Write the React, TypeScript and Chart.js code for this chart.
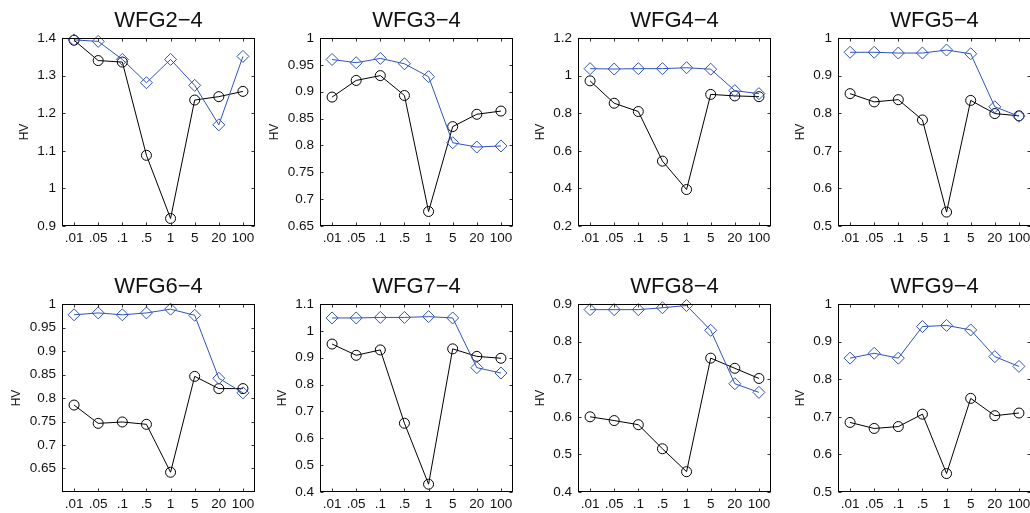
import React, { useEffect, useRef } from 'react';
import { Chart, registerables } from 'chart.js';

Chart.register(...registerables);

// ---------- data ----------
const categories = ['.01', '.05', '.1', '.5', '1', '5', '20', '100'];

const wfg2Black = [1.394, 1.34, 1.336, 1.088, 0.92, 1.235, 1.244, 1.258];
const wfg2Blue = [1.395, 1.391, 1.343, 1.281, 1.343, 1.274, 1.169, 1.351];
const wfg2Ticks = [0.9, 1, 1.1, 1.2, 1.3, 1.4];

const wfg3Black = [0.89, 0.921, 0.93, 0.893, 0.677, 0.835, 0.858, 0.864];
const wfg3Blue = [0.96, 0.954, 0.962, 0.952, 0.928, 0.805, 0.797, 0.799];
const wfg3Ticks = [0.65, 0.7, 0.75, 0.8, 0.85, 0.9, 0.95, 1];

const wfg4Black = [0.972, 0.853, 0.809, 0.545, 0.394, 0.9, 0.892, 0.888];
const wfg4Blue = [1.037, 1.035, 1.037, 1.037, 1.042, 1.034, 0.92, 0.904];
const wfg4Ticks = [0.2, 0.4, 0.6, 0.8, 1, 1.2];

const wfg5Black = [0.852, 0.83, 0.836, 0.782, 0.537, 0.834, 0.799, 0.793];
const wfg5Blue = [0.962, 0.962, 0.96, 0.96, 0.968, 0.958, 0.817, 0.792];
const wfg5Ticks = [0.5, 0.6, 0.7, 0.8, 0.9, 1];

const wfg6Black = [0.785, 0.746, 0.749, 0.744, 0.642, 0.846, 0.82, 0.82];
const wfg6Blue = [0.977, 0.981, 0.977, 0.981, 0.989, 0.976, 0.842, 0.811];
const wfg6Ticks = [0.65, 0.7, 0.75, 0.8, 0.85, 0.9, 0.95, 1];

const wfg7Black = [0.951, 0.909, 0.929, 0.656, 0.429, 0.933, 0.905, 0.898];
const wfg7Blue = [1.048, 1.048, 1.05, 1.05, 1.053, 1.048, 0.863, 0.843];
const wfg7Ticks = [0.4, 0.5, 0.6, 0.7, 0.8, 0.9, 1, 1.1];

const wfg8Black = [0.6, 0.59, 0.579, 0.515, 0.454, 0.756, 0.729, 0.702];
const wfg8Blue = [0.885, 0.885, 0.885, 0.89, 0.896, 0.83, 0.688, 0.665];
const wfg8Ticks = [0.4, 0.5, 0.6, 0.7, 0.8, 0.9];

const wfg9Black = [0.685, 0.669, 0.674, 0.707, 0.549, 0.749, 0.703, 0.71];
const wfg9Blue = [0.856, 0.869, 0.856, 0.94, 0.943, 0.931, 0.86, 0.834];
const wfg9Ticks = [0.5, 0.6, 0.7, 0.8, 0.9, 1];

type PanelCfg = {
  title: string;
  black: number[];
  blue: number[];
  ticks: number[];
  min: number;
  max: number;
};

const panels: PanelCfg[] = [
  { title: 'WFG2\u22124', black: wfg2Black, blue: wfg2Blue, ticks: wfg2Ticks, min: 0.9, max: 1.4 },
  { title: 'WFG3\u22124', black: wfg3Black, blue: wfg3Blue, ticks: wfg3Ticks, min: 0.65, max: 1 },
  { title: 'WFG4\u22124', black: wfg4Black, blue: wfg4Blue, ticks: wfg4Ticks, min: 0.2, max: 1.2 },
  { title: 'WFG5\u22124', black: wfg5Black, blue: wfg5Blue, ticks: wfg5Ticks, min: 0.5, max: 1 },
  { title: 'WFG6\u22124', black: wfg6Black, blue: wfg6Blue, ticks: wfg6Ticks, min: 0.6, max: 1 },
  { title: 'WFG7\u22124', black: wfg7Black, blue: wfg7Blue, ticks: wfg7Ticks, min: 0.4, max: 1.1 },
  { title: 'WFG8\u22124', black: wfg8Black, blue: wfg8Blue, ticks: wfg8Ticks, min: 0.4, max: 0.9 },
  { title: 'WFG9\u22124', black: wfg9Black, blue: wfg9Blue, ticks: wfg9Ticks, min: 0.5, max: 1 },
];

// ---------- styling / layout ----------
const FONT = '"Liberation Sans", Arial, Helvetica, sans-serif';
const BLUE = '#3052bc';
const TEXT = '#111111';
const TICK_SIZE = 13.5;
const BOX_LEFTS = [62, 320, 578, 838];
const BOX_TOPS = [38, 304];
const BOX_W = 194;
const BOX_H = 188;
const PAD_LEFT = 60;
const PAD_TOP = 38;
const PAD_RIGHT = 6;
const PAD_BOTTOM = 24;

const fmt = (v: number) => String(Number(v.toFixed(2)));

const framePlugin = {
  id: 'frame',
  afterDraw(chart: any, _args: any, opts: any) {
    const { ctx, chartArea: a } = chart;
    const xs = chart.scales.x;
    const ys = chart.scales.y;
    const L = Math.round(a.left) + 0.5;
    const R = Math.round(a.right) - 0.5;
    const T = Math.round(a.top) + 0.5;
    const B = Math.round(a.bottom) - 0.5;
    ctx.save();
    // inward tick marks
    ctx.strokeStyle = '#333';
    ctx.lineWidth = 1;
    ctx.beginPath();
    ys.ticks.forEach((t: any) => {
      const y = Math.round(ys.getPixelForValue(t.value)) + 0.5;
      ctx.moveTo(L, y);
      ctx.lineTo(L + 3, y);
      ctx.moveTo(R, y);
      ctx.lineTo(R - 3, y);
    });
    categories.forEach((_c, i) => {
      const x = Math.round(xs.getPixelForValue(i)) + 0.5;
      ctx.moveTo(x, B);
      ctx.lineTo(x, B - 3);
      ctx.moveTo(x, T);
      ctx.lineTo(x, T + 3);
    });
    ctx.stroke();
    // box
    ctx.strokeStyle = '#000';
    ctx.strokeRect(L, T, R - L, B - T);
    // title
    ctx.fillStyle = TEXT;
    ctx.font = `22px ${FONT}`;
    ctx.textAlign = 'center';
    ctx.textBaseline = 'alphabetic';
    ctx.fillText(opts.title, (a.left + a.right) / 2, a.top - 11);
    // y label, placed left of the widest tick label
    ctx.font = `${TICK_SIZE}px ${FONT}`;
    let widest = 0;
    ys.ticks.forEach((t: any) => {
      widest = Math.max(widest, ctx.measureText(fmt(t.value)).width);
    });
    const hx = a.left - 6 - widest - 13;
    ctx.translate(hx, (a.top + a.bottom) / 2);
    ctx.rotate(-Math.PI / 2);
    ctx.font = `12px ${FONT}`;
    ctx.textAlign = 'center';
    ctx.textBaseline = 'middle';
    ctx.fillText('HV', 0, 0);
    ctx.restore();
  },
};

function Panel({ cfg, left, top }: { cfg: PanelCfg; left: number; top: number }) {
  const ref = useRef<HTMLCanvasElement | null>(null);
  useEffect(() => {
    if (!ref.current) return;
    const pointCommon = {
      borderWidth: 1,
      tension: 0,
      clip: false as any,
      pointBackgroundColor: 'rgba(0,0,0,0)',
      pointBorderWidth: 1,
      pointHoverRadius: 0,
    };
    const chart = new Chart(ref.current, {
      type: 'line',
      data: {
        labels: categories,
        datasets: [
          {
            ...pointCommon,
            data: cfg.blue,
            borderColor: BLUE,
            pointBorderColor: BLUE,
            pointStyle: 'rectRot',
            pointRadius: 6,
          },
          {
            ...pointCommon,
            data: cfg.black,
            borderColor: '#000',
            pointBorderColor: '#000',
            pointStyle: 'circle',
            pointRadius: 5,
          },
        ],
      },
      options: {
        responsive: false,
        animation: false,
        events: [],
        layout: { padding: { top: PAD_TOP, right: PAD_RIGHT, left: 0, bottom: 0 } },
        plugins: {
          legend: { display: false },
          title: { display: false },
          tooltip: { enabled: false },
          frame: { title: cfg.title },
        } as any,
        scales: {
          x: {
            type: 'category',
            offset: true,
            grid: { display: false, drawTicks: false },
            border: { display: false },
            ticks: {
              color: TEXT,
              font: { family: FONT, size: TICK_SIZE },
              padding: 4,
              maxRotation: 0,
              autoSkip: false,
            },
            afterFit: (s: any) => {
              s.height = PAD_BOTTOM;
            },
          },
          y: {
            type: 'linear',
            min: cfg.min,
            max: cfg.max,
            grid: { display: false, drawTicks: false },
            border: { display: false },
            ticks: {
              color: TEXT,
              font: { family: FONT, size: TICK_SIZE },
              padding: 6,
              callback: (v: any) => fmt(Number(v)),
            },
            afterBuildTicks: (s: any) => {
              s.ticks = cfg.ticks.map((v) => ({ value: v }));
            },
            afterFit: (s: any) => {
              s.width = PAD_LEFT;
            },
          },
        },
      },
      plugins: [framePlugin as any],
    });
    return () => chart.destroy();
  }, [cfg]);
  return (
    <canvas
      ref={ref}
      width={PAD_LEFT + BOX_W + PAD_RIGHT}
      height={PAD_TOP + BOX_H + PAD_BOTTOM}
      style={{ position: 'absolute', left, top, display: 'block' }}
    />
  );
}

export default function App() {
  return (
    <div
      style={{
        position: 'absolute',
        left: 0,
        top: 0,
        width: 1030,
        height: 513,
        overflow: 'hidden',
        background: '#fff',
      }}
    >
      {panels.map((p, i) => (
        <Panel
          key={p.title}
          cfg={p}
          left={BOX_LEFTS[i % 4] - PAD_LEFT}
          top={BOX_TOPS[Math.floor(i / 4)] - PAD_TOP}
        />
      ))}
    </div>
  );
}
